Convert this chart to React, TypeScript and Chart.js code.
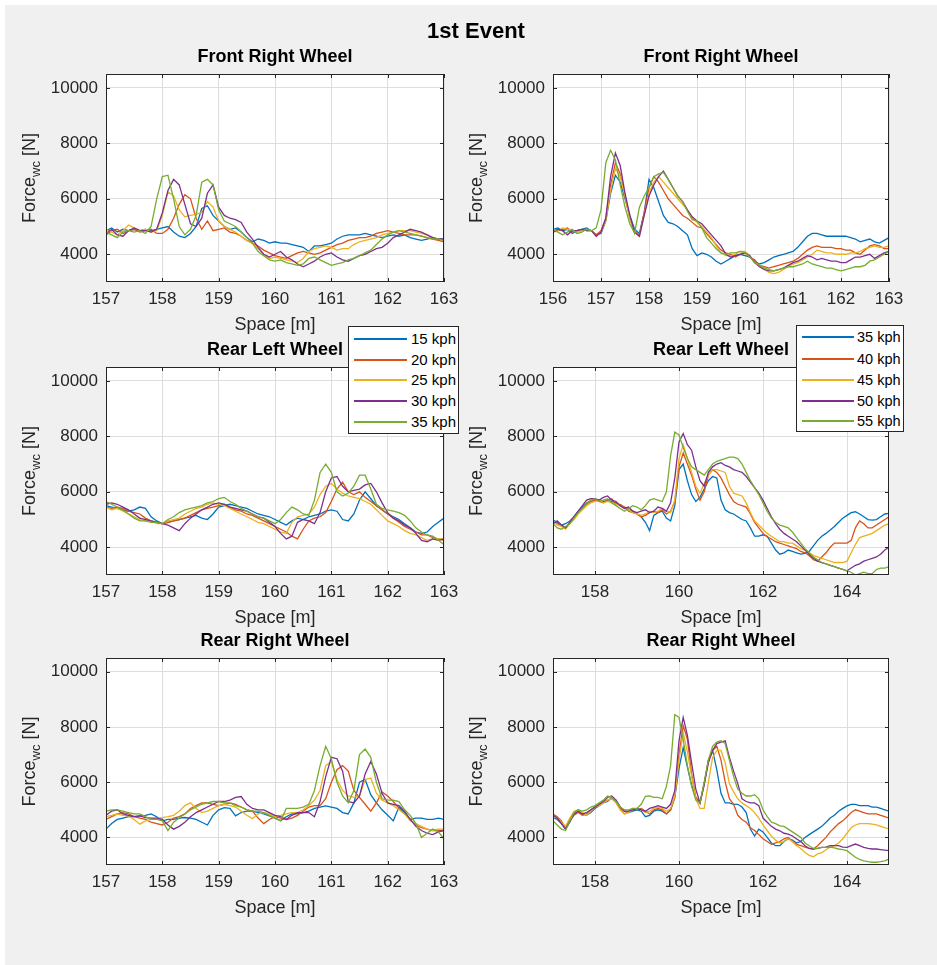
import { useEffect, useRef } from 'react';
import { Chart, registerables } from 'chart.js';

Chart.register(...registerables);

const FONT = '"Liberation Sans", Arial, Helvetica, sans-serif';
const AXIS_COLOR = '#262626';
const GRID_COLOR = '#dedede';
const COLORS = ['#0072BD', '#D95319', '#EDB120', '#7E2F8E', '#77AC30'];

const figureTitle = '1st Event';
const xLabel = 'Space [m]';
const legendLow = ['15 kph', '20 kph', '25 kph', '30 kph', '35 kph'];
const legendHigh = ['35 kph', '40 kph', '45 kph', '50 kph', '55 kph'];

const yTicks = [4000, 6000, 8000, 10000];
const xTicksA = [157, 158, 159, 160, 161, 162, 163];
const xTicksB = [156, 157, 158, 159, 160, 161, 162, 163];
const xTicksC = [158, 160, 162, 164];

const spaceA = [
  157.0, 157.1, 157.2, 157.3, 157.4, 157.5, 157.6, 157.7, 157.8, 157.9,
  158.0, 158.1, 158.2, 158.3, 158.4, 158.5, 158.6, 158.7, 158.8, 158.9,
  159.0, 159.1, 159.2, 159.3, 159.4, 159.5, 159.6, 159.7, 159.8, 159.9,
  160.0, 160.1, 160.2, 160.3, 160.4, 160.5, 160.6, 160.7, 160.8, 160.9,
  161.0, 161.1, 161.2, 161.3, 161.4, 161.5, 161.6, 161.7, 161.8, 161.9,
  162.0, 162.1, 162.2, 162.3, 162.4, 162.5, 162.6, 162.7, 162.8, 162.9,
  163.0];

const spaceB = [
  156.0, 156.1, 156.2, 156.3, 156.4, 156.5, 156.6, 156.7, 156.8, 156.9,
  157.0, 157.1, 157.2, 157.3, 157.4, 157.5, 157.6, 157.7, 157.8, 157.9,
  158.0, 158.1, 158.2, 158.3, 158.4, 158.5, 158.6, 158.7, 158.8, 158.9,
  159.0, 159.1, 159.2, 159.3, 159.4, 159.5, 159.6, 159.7, 159.8, 159.9,
  160.0, 160.1, 160.2, 160.3, 160.4, 160.5, 160.6, 160.7, 160.8, 160.9,
  161.0, 161.1, 161.2, 161.3, 161.4, 161.5, 161.6, 161.7, 161.8, 161.9,
  162.0, 162.1, 162.2, 162.3, 162.4, 162.5, 162.6, 162.7, 162.8, 162.9,
  163.0];

const spaceC = [
  157.0, 157.1, 157.2, 157.3, 157.4, 157.5, 157.6, 157.7, 157.8, 157.9,
  158.0, 158.1, 158.2, 158.3, 158.4, 158.5, 158.6, 158.7, 158.8, 158.9,
  159.0, 159.1, 159.2, 159.3, 159.4, 159.5, 159.6, 159.7, 159.8, 159.9,
  160.0, 160.1, 160.2, 160.3, 160.4, 160.5, 160.6, 160.7, 160.8, 160.9,
  161.0, 161.1, 161.2, 161.3, 161.4, 161.5, 161.6, 161.7, 161.8, 161.9,
  162.0, 162.1, 162.2, 162.3, 162.4, 162.5, 162.6, 162.7, 162.8, 162.9,
  163.0, 163.1, 163.2, 163.3, 163.4, 163.5, 163.6, 163.7, 163.8, 163.9,
  164.0, 164.1, 164.2, 164.3, 164.4, 164.5, 164.6, 164.7, 164.8, 164.9,
  165.0];

// ---- Front Right Wheel (low speeds) ----
const frontLow15 = [
  4850, 4950, 4800, 4900, 4850, 4900, 4850, 4900, 4850, 4900,
  4950, 5000, 4800, 4650, 4600, 4750, 5000, 5650, 5750, 5400,
  5200, 5000, 4900, 4950, 4800, 4600, 4450, 4550, 4500, 4400,
  4450, 4400, 4400, 4350, 4300, 4250, 4100, 4300, 4300, 4350,
  4400, 4550, 4650, 4700, 4700, 4700, 4750, 4700, 4650, 4600,
  4650, 4700, 4650, 4700, 4600, 4550, 4500, 4550, 4600, 4550,
  4550];
const frontLow20 = [
  4700, 4850, 4900, 4750, 4850, 4900, 4800, 4850, 4900, 4750,
  4750, 4900, 5300, 5800, 6150, 6000, 5300, 4900, 5200, 4850,
  4900, 4950, 4800, 4750, 4650, 4500, 4400, 4300, 4150, 4050,
  3950, 3900, 3850, 3950, 4050, 4100, 4050, 4000, 4050, 4150,
  4250, 4350, 4400, 4500, 4550, 4600, 4600, 4650, 4750, 4800,
  4850, 4800, 4750, 4700, 4700, 4700, 4650, 4600, 4550, 4500,
  4450];
const frontLow25 = [
  4900, 4800, 4700, 4850, 5050, 4950, 4850, 4900, 4800, 4850,
  5400, 6250, 6100, 5600, 5350, 5400, 5450, 5500, 5900, 5700,
  5200, 5000, 4900, 4800, 4650, 4500, 4400, 4200, 4000, 3850,
  3900, 3850, 3800, 3750, 3700, 3850, 4100, 4200, 4250, 4300,
  4250, 4150, 4200, 4200, 4350, 4450, 4500, 4550, 4600, 4700,
  4750, 4800, 4850, 4850, 4850, 4800, 4750, 4700, 4600, 4550,
  4500];
const frontLow30 = [
  4750, 4900, 4700, 4650, 4850, 4950, 4850, 4850, 4800, 4900,
  5500, 6300, 6700, 6500, 5800, 5100, 5000, 5300, 6200, 6500,
  5700, 5400, 5300, 5250, 5150, 4800, 4550, 4250, 4000, 3900,
  4000, 4100, 3900, 3800, 3650, 3550, 3650, 3750, 3900, 4000,
  4050, 3900, 3800, 3750, 3850, 3950, 4000, 4100, 4200, 4250,
  4400, 4600, 4700, 4800, 4900, 4850, 4800, 4700, 4600, 4550,
  4550];
const frontLow35 = [
  4800, 4700, 4600, 4800, 4850, 4800, 4850, 4750, 5000, 6000,
  6800, 6850, 6000, 5000, 4700, 4900, 5400, 6600, 6700, 6500,
  5600, 5200, 5100, 5000, 4800, 4600, 4400, 4100, 3950, 3800,
  3750, 3800, 3700, 3650, 3600, 3650, 3850, 3900, 3800, 3700,
  3600, 3650, 3700, 3800, 3850, 3950, 4050, 4150, 4350, 4550,
  4700, 4800, 4850, 4800, 4750, 4700, 4650, 4600, 4550, 4550,
  4500];

// ---- Front Right Wheel (high speeds) ----
const frontHigh35 = [
  4900, 4950, 4850, 4900, 4750, 4850, 4900, 4950, 4850, 4700,
  4750, 5200, 6200, 6850, 6600, 6000, 5400, 4900, 4750, 5500,
  6700, 6400, 5900, 5400, 5150, 5100, 5000, 4850, 4700, 4200,
  3950, 4050, 4000, 3900, 3750, 3650, 3750, 3850, 3950, 4000,
  3950, 3900, 3750, 3650, 3700, 3800, 3900, 3950, 4000, 4050,
  4100, 4250, 4450, 4650, 4750, 4750, 4700, 4650, 4650, 4650,
  4650, 4650, 4600, 4550, 4450, 4500, 4550, 4450, 4400, 4500,
  4600];
const frontHigh40 = [
  4800, 4850, 4900, 4950, 4800, 4850, 4900, 4850, 4850, 4700,
  4850, 5300, 6500, 7300, 6900, 6100, 5300, 4800, 4700, 5500,
  6400, 6800, 6600, 6300, 6000, 5800, 5600, 5400, 5300, 5150,
  5000, 4950, 4750, 4550, 4350, 4150, 4050, 4000, 3900, 4000,
  4050, 3900, 3800, 3600, 3550, 3500, 3550, 3600, 3650, 3700,
  3750, 3850, 4000, 4150, 4250, 4300, 4250, 4250, 4250, 4200,
  4200, 4150, 4150, 4050, 4000, 4150, 4300, 4350, 4300, 4200,
  4200];
const frontHigh45 = [
  4900, 4850, 4950, 4900, 4850, 4800, 4850, 4900, 4850, 4650,
  4800, 5200, 6300, 7100, 6800, 6100, 5300, 4800, 4650, 5400,
  6200, 6600, 6800, 6600, 6400, 6200, 6000, 5800, 5600, 5300,
  5150, 5000, 4800, 4600, 4300, 4050, 3950, 3950, 4000, 4100,
  4100, 3950, 3700, 3600, 3450, 3350, 3300, 3350, 3450, 3550,
  3650, 3700, 3800, 3900, 4000, 4150, 4100, 4050, 4050, 4000,
  4000, 4000, 4050, 4050, 4100, 4200, 4250, 4300, 4250, 4250,
  4300];
const frontHigh50 = [
  4800, 4900, 4850, 4700, 4850, 4850, 4900, 4850, 4850, 4650,
  4800, 5300, 6800, 7650, 7200, 6200, 5400, 4800, 4650, 5400,
  6100, 6500, 6800, 7000, 6700, 6400, 6100, 5900, 5600, 5350,
  5200, 5100, 4900, 4700, 4500, 4300, 4000, 3900, 3950, 4000,
  4050, 3950, 3700, 3550, 3450, 3400, 3400, 3450, 3500, 3600,
  3700, 3750, 3850, 3950, 3900, 3800, 3850, 3800, 3750, 3750,
  3700, 3700, 3800, 3900, 3900, 3950, 4000, 3850, 3950, 4050,
  4100];
const frontHigh55 = [
  4900, 4800, 4700, 4800, 4900, 4750, 4800, 4900, 4850, 4950,
  5600, 7300, 7750, 7400, 6500, 5700, 5100, 4750, 5700, 6100,
  6400, 6800, 6900, 6950, 6700, 6400, 6100, 5900, 5550, 5250,
  5200, 4950, 4600, 4400, 4200, 4050, 4000, 4050, 4050, 4100,
  4050, 3900, 3700, 3600, 3500, 3450, 3400, 3450, 3500, 3550,
  3550, 3600, 3650, 3750, 3650, 3600, 3550, 3500, 3500, 3450,
  3400, 3450, 3500, 3550, 3550, 3600, 3750, 3800, 3900, 4000,
  4100];

// ---- Rear Left Wheel (low speeds) ----
const rearLeftLow15 = [
  5500, 5450, 5400, 5350, 5300, 5350, 5450, 5400, 5100, 4950,
  4850, 4900, 4950, 5000, 5050, 5100, 5150, 5050, 5000, 5200,
  5450, 5500, 5550, 5500, 5450, 5400, 5300, 5200, 5150, 5100,
  5000, 4900, 4800, 4950, 5050, 5000, 5100, 5150, 5200, 5300,
  5350, 5300, 5000, 4950, 5200, 5700, 6000, 5750, 5500, 5350,
  5200, 5100, 5000, 4850, 4700, 4550, 4500, 4550, 4750, 4900,
  5050];
const rearLeftLow20 = [
  5450, 5400, 5450, 5400, 5300, 5250, 5200, 5050, 4950, 4900,
  4850, 4900, 4950, 5000, 5050, 5150, 5250, 5350, 5400, 5450,
  5500, 5550, 5450, 5350, 5300, 5200, 5150, 5050, 4950, 4850,
  4750, 4650, 4550, 4400, 4300, 4650, 4950, 5050, 5100, 5250,
  5650, 6100, 6350, 6000, 5900, 6000, 5800, 5650, 5500, 5350,
  5200, 5050, 4900, 4750, 4650, 4550, 4450, 4450, 4350, 4300,
  4250];
const rearLeftLow25 = [
  5450, 5350, 5400, 5300, 5200, 5100, 5000, 4950, 4950, 4850,
  4850, 4950, 5000, 5050, 5200, 5300, 5400, 5450, 5550, 5600,
  5550, 5500, 5400, 5300, 5200, 5100, 5000, 4900, 4850, 4750,
  4650, 4550, 4500, 4900, 5100, 5150, 5200, 5450, 5900, 6200,
  6300, 6100, 5950, 5850, 5800, 5750, 5650, 5550, 5350, 5150,
  4950, 4850, 4750, 4600, 4500, 4450, 4350, 4250, 4300, 4300,
  4300];
const rearLeftLow30 = [
  5550, 5600, 5550, 5450, 5350, 5200, 5050, 5000, 4950, 4900,
  4850, 4800, 4700, 4600, 4850, 5050, 5200, 5350, 5450, 5550,
  5600, 5550, 5450, 5400, 5350, 5300, 5200, 5100, 5050, 4900,
  4750, 4500, 4300, 4400, 4900, 5000, 4950, 4850, 5250, 6000,
  6500, 6550, 6200, 6000, 6050, 6100, 6250, 6300, 6000, 5600,
  5250, 5050, 4950, 4800, 4700, 4500, 4250, 4200, 4300, 4250,
  4300];
const rearLeftLow35 = [
  5650, 5550, 5450, 5350, 5200, 5050, 4950, 4950, 4900, 4900,
  4850, 5000, 5100, 5250, 5350, 5400, 5450, 5500, 5600, 5650,
  5750, 5800, 5650, 5550, 5400, 5300, 5200, 5100, 5050, 4950,
  4850, 5000, 5250, 5450, 5350, 5200, 5150, 5700, 6700, 7000,
  6700, 6000, 5850, 5950, 6200, 6600, 6600, 6100, 5550, 5400,
  5350, 5300, 5250, 5150, 4950, 4700, 4550, 4450, 4400, 4250,
  4100];

// ---- Rear Left Wheel (high speeds) ----
const rearLeftHigh35 = [
  4980, 4900, 4800, 4850, 4950, 5100, 5300, 5450, 5600, 5650,
  5700, 5700, 5650, 5700, 5650, 5600, 5500, 5450, 5350, 5300,
  5200, 5100, 4900, 4600, 5150, 5250, 5300, 5050, 4950, 5500,
  6800, 7000, 6400, 5900, 5650, 5800, 6100, 6400, 6550, 6500,
  5700, 5350, 5250, 5200, 5100, 5000, 4950, 4700, 4400, 4400,
  4450, 4400, 4150, 3900, 3750, 3800, 3900, 3850, 3800, 3750,
  3780, 3850, 4050, 4250, 4400, 4500, 4620, 4750, 4900, 5050,
  5150, 5250, 5280, 5200, 5100, 5000, 4980, 5000, 5100, 5200,
  5220];
const rearLeftHigh40 = [
  4900, 4850, 4800, 4700, 4900, 5050, 5250, 5400, 5550, 5650,
  5700, 5650, 5600, 5700, 5750, 5550, 5550, 5450, 5300, 5250,
  5200, 5100, 5150, 5250, 5300, 5250, 5350, 5200, 5300, 5650,
  6900, 7400, 7000, 6600, 6100, 5700, 6000, 6600, 6800, 6700,
  6500, 6200, 5900, 5650, 5550, 5500, 5450, 5200, 4900, 4700,
  4500, 4380, 4300, 4200, 4150, 4100, 4050, 4000, 3950, 3850,
  3800, 3700, 3550, 3500, 3650, 3800, 4000, 4150, 4150, 4150,
  4150, 4250, 4700, 4950, 4850, 4700, 4700, 4800, 4900, 5000,
  5100];
const rearLeftHigh45 = [
  4950, 4800, 4750, 4650, 4850, 5000, 5200, 5350, 5500, 5600,
  5650, 5700, 5600, 5650, 5600, 5550, 5500, 5400, 5350, 5250,
  5200, 5150, 5200, 5300, 5250, 5300, 5400, 5300, 5250, 5700,
  7200, 7700, 7200, 6700, 6200, 5950, 6300, 6600, 6800, 6800,
  6750, 6700, 6200, 5950, 5900, 5850, 5600, 5250, 4950, 4800,
  4650, 4500, 4400, 4300, 4200, 4200, 4150, 4150, 4050, 3950,
  3900, 3800, 3700, 3650, 3600, 3550, 3500, 3450, 3450, 3450,
  3500, 3800, 4100, 4350, 4400, 4450, 4500, 4600, 4700, 4800,
  4850];
const rearLeftHigh50 = [
  4850, 4950, 4800, 4700, 4900, 5100, 5300, 5500, 5700, 5750,
  5750, 5700, 5800, 5850, 5700, 5650, 5500, 5400, 5450, 5300,
  5250, 5300, 5350, 5250, 5300, 5450, 5400, 5300, 5600, 6500,
  7800, 8100, 7700, 7500, 6900, 6400, 6200, 6700, 6900, 7000,
  7050, 6950, 6900, 6800, 6750, 6700, 6550, 6350, 6150, 5950,
  5700, 5400, 5100, 4850, 4650, 4500, 4400, 4300, 4200, 4050,
  3900, 3750, 3600, 3500, 3450, 3400, 3350, 3300, 3250, 3200,
  3150, 3250, 3350, 3400, 3500, 3550, 3600, 3650, 3750, 3900,
  4000];
const rearLeftHigh55 = [
  4850, 4700, 4650, 4750, 4850, 5050, 5250, 5400, 5600, 5700,
  5750, 5650, 5700, 5750, 5600, 5500, 5400, 5300, 5400, 5500,
  5450, 5350, 5500, 5700, 5750, 5700, 5650, 6000, 7300, 8150,
  8050, 7600, 7200, 6900, 6800, 6700, 6600, 6800, 7000, 7100,
  7150, 7200, 7250, 7250, 7200, 7000, 6700, 6400, 6150, 5900,
  5600, 5300, 5050, 4900, 4800, 4750, 4700, 4550, 4350, 4150,
  3950, 3800, 3650, 3550, 3450, 3400, 3350, 3300, 3250, 3200,
  3150, 3100, 3000, 3050, 3100, 3050, 3050, 3200, 3250, 3250,
  3300];

// ---- Rear Right Wheel (low speeds) ----
const rearRightLow15 = [
  4300, 4500, 4650, 4700, 4750, 4750, 4780, 4800, 4850, 4750,
  4600, 4650, 4650, 4700, 4720, 4700, 4650, 4550, 4450, 4800,
  5000, 5080, 5050, 4780, 4900, 4950, 4950, 4900, 4850, 4780,
  4700, 4600, 4750, 4850, 4850, 4900, 4950, 5050, 5100, 5140,
  5100, 5050, 4900, 4850, 5250, 6000, 6100, 5550, 5250, 5000,
  4800, 4600, 5100, 4900, 4650, 4700, 4700, 4650, 4650, 4700,
  4650];
const rearRightLow20 = [
  4650, 4750, 4850, 4900, 4850, 4750, 4700, 4650, 4550, 4500,
  4450, 4550, 4700, 4750, 4850, 5050, 5150, 5250, 5250, 5200,
  5150, 5200, 5250, 5200, 5100, 5000, 4950, 4700, 4500, 4650,
  4750, 4700, 4650, 4700, 4800, 4950, 5100, 5150, 5150, 5400,
  6000, 6450, 6600, 6400, 5700, 5450, 5200, 4950, 5250, 5650,
  5500, 5300, 5050, 4850, 4650, 4450, 4350, 4300, 4250, 4250,
  4250];
const rearRightLow25 = [
  4750, 4800, 4850, 4800, 4780, 4650, 4480, 4600, 4650, 4700,
  4720, 4750, 4800, 4950, 5150, 5250, 5050, 4900, 4950, 5050,
  5150, 5200, 5150, 5100, 4950, 4800, 4680, 4850, 4900, 4850,
  4750, 4800, 4850, 4900, 4900, 5000, 5150, 5350, 5700, 6600,
  6750, 6100, 5700, 5500, 5450, 5500, 6100, 6150, 5600, 5350,
  5250, 5150, 5000, 4850, 4600, 4500, 4400, 4300, 4250, 4300,
  4300];
const rearRightLow30 = [
  4800, 4950, 5000, 4850, 4800, 4750, 4780, 4720, 4700, 4700,
  4650, 4450, 4300, 4400, 4550, 4750, 4900, 5000, 5100, 5200,
  5300, 5300, 5350, 5450, 5480, 5200, 5050, 5000, 5000, 4900,
  4800, 4750, 4650, 4800, 4900, 4900, 4900, 4750, 5300, 6200,
  6900, 6850, 6400, 5300, 5250, 5500, 6300, 6750, 6300, 5600,
  5250, 5200, 5150, 4950, 4650, 4400, 4250, 4150, 4100, 4200,
  4250];
const rearRightLow35 = [
  4950, 5000, 5000, 4950, 4900, 4850, 4850, 4750, 4650, 4650,
  4600, 4250, 4550, 4700, 4850, 5000, 5100, 5200, 5250, 5300,
  5300, 5250, 5250, 5150, 5100, 5000, 4950, 4950, 4900, 4800,
  4700, 4600, 5050, 5050, 5050, 5100, 5200, 5700, 6600, 7300,
  6850, 6000, 5500, 5250, 5700, 7000, 7200, 6900, 6000, 5400,
  5350, 5350, 5300, 5000, 4800, 4500, 4000, 4150, 4300, 4200,
  3950];

// ---- Rear Right Wheel (high speeds) ----
const rearRightHigh35 = [
  4720, 4650, 4500, 4300, 4550, 4850, 4950, 4850, 4800, 4900,
  5050, 5150, 5250, 5300, 5450, 5350, 5100, 4950, 4900, 4950,
  5000, 4950, 4750, 4800, 4950, 5000, 4950, 4850, 5000, 5450,
  6500, 7250, 6550, 5900, 5450, 5250, 5900, 6800, 7150, 6450,
  5600, 5250, 5250, 5200, 5200, 5100, 4900, 4300, 4050, 4300,
  4200, 4000, 3800, 3700, 3700, 3850, 3950, 3900, 3800, 3850,
  4000, 4100, 4200, 4300, 4400, 4550, 4700, 4800, 4950, 5050,
  5140, 5200, 5200, 5150, 5150, 5150, 5100, 5100, 5050, 5000,
  4950];
const rearRightHigh40 = [
  4850, 4750, 4600, 4350, 4600, 4800, 4900, 4800, 4850, 5000,
  5100, 5200, 5300, 5350, 5400, 5300, 5050, 4850, 4950, 5050,
  5000, 5050, 4950, 4850, 5000, 5050, 5000, 4850, 5000, 5450,
  7000, 8050, 7550, 6300, 5450, 5250, 5950, 6800, 7150, 7300,
  6800, 6000, 5400, 5200, 4800, 4650, 4550, 4350, 4250, 4100,
  3950, 3850, 3750, 3800, 3850, 3950, 4000, 3850, 3750, 3700,
  3650, 3600, 3580, 3700, 3850, 4000, 4200, 4350, 4500, 4600,
  4750, 4900, 5000, 4950, 4900, 4850, 4850, 4850, 4800, 4750,
  4700];
const rearRightHigh45 = [
  4800, 4700, 4550, 4400, 4700, 4950, 5000, 4900, 4800, 4950,
  5100, 5150, 5250, 5350, 5400, 5250, 5000, 4850, 4900, 5000,
  5050, 5000, 4900, 4950, 5050, 5100, 5050, 4950, 5050, 5500,
  6800, 7800, 7100, 6200, 5400, 5050, 5050, 6000, 6900, 7150,
  7150, 6700, 5950, 5650, 5400, 5250, 5150, 5050, 4900, 4700,
  4450, 4250, 4050, 3900, 3800, 3850, 3950, 3850, 3700, 3600,
  3450, 3350, 3300, 3400, 3450, 3550, 3650, 3700, 3800, 3950,
  4150, 4350, 4450, 4500, 4500, 4500, 4480, 4450, 4400, 4350,
  4300];
const rearRightHigh50 = [
  4800, 4700, 4500, 4300, 4600, 4850, 4950, 4850, 4900, 5000,
  5100, 5200, 5300, 5450, 5500, 5350, 5100, 4950, 4950, 5000,
  5050, 5000, 4950, 5050, 5100, 5150, 5100, 5050, 5200, 5700,
  7500, 8350, 7700, 6700, 5750, 5250, 5950, 6700, 7150, 7400,
  7450, 7500, 6900, 6400, 5950, 5400, 5300, 5250, 5250, 5150,
  4700, 4550, 4400, 4300, 4240, 4150, 4120, 4050, 3940, 3850,
  3700, 3600, 3580, 3600, 3640, 3650, 3700, 3700, 3700, 3650,
  3640, 3700, 3760, 3700, 3640, 3600, 3580, 3580, 3560, 3540,
  3520];
const rearRightHigh55 = [
  4600, 4450, 4300, 4250, 4600, 4900, 5000, 4950, 5000, 5100,
  5150, 5250, 5350, 5500, 5450, 5300, 5100, 5000, 5000, 5050,
  5050, 5200, 5490, 5500, 5450, 5450, 5400, 5850, 6600, 8450,
  8350, 7550, 6600, 5850, 5350, 5250, 6000, 6800, 7300, 7450,
  7500, 7400, 6800, 6200, 5750, 5600, 5500, 5500, 5550, 5400,
  5000, 4750, 4550, 4500, 4420, 4400, 4300, 4200, 4100, 4000,
  3800, 3700, 3600, 3600, 3640, 3640, 3650, 3620, 3580, 3560,
  3520, 3400, 3280, 3200, 3150, 3120, 3100, 3100, 3120, 3150,
  3220];

// ---- layout (page pixels) ----
const PAD_L = 100;
const PAD_R = 30;
const PAD_T = 40;
const PAD_B = 60;
const TICK_LEN = 4;

type PanelCfg = {
  title: string;
  box: [number, number, number, number];
  x: number[];
  xMin: number;
  xMax: number;
  xTicks: number[];
  labels: string[];
  series: number[][];
};

const PANELS: PanelCfg[] = [
  { title: 'Front Right Wheel', box: [106, 74, 444, 282], x: spaceA, xMin: 157, xMax: 163, xTicks: xTicksA, labels: legendLow,
    series: [frontLow15, frontLow20, frontLow25, frontLow30, frontLow35] },
  { title: 'Front Right Wheel', box: [553, 74, 889, 282], x: spaceB, xMin: 156, xMax: 163, xTicks: xTicksB, labels: legendHigh,
    series: [frontHigh35, frontHigh40, frontHigh45, frontHigh50, frontHigh55] },
  { title: 'Rear Left Wheel', box: [106, 367, 444, 575], x: spaceA, xMin: 157, xMax: 163, xTicks: xTicksA, labels: legendLow,
    series: [rearLeftLow15, rearLeftLow20, rearLeftLow25, rearLeftLow30, rearLeftLow35] },
  { title: 'Rear Left Wheel', box: [553, 367, 889, 575], x: spaceC, xMin: 157, xMax: 165, xTicks: xTicksC, labels: legendHigh,
    series: [rearLeftHigh35, rearLeftHigh40, rearLeftHigh45, rearLeftHigh50, rearLeftHigh55] },
  { title: 'Rear Right Wheel', box: [106, 658, 444, 865], x: spaceA, xMin: 157, xMax: 163, xTicks: xTicksA, labels: legendLow,
    series: [rearRightLow15, rearRightLow20, rearRightLow25, rearRightLow30, rearRightLow35] },
  { title: 'Rear Right Wheel', box: [553, 658, 889, 865], x: spaceC, xMin: 157, xMax: 165, xTicks: xTicksC, labels: legendHigh,
    series: [rearRightHigh35, rearRightHigh40, rearRightHigh45, rearRightHigh50, rearRightHigh55] },
];

const LEGENDS = [
  { left: 348, top: 326, width: 111, height: 108, labels: legendLow, rows: [13, 34, 54, 75, 96], line0: 6, line1: 59, text: 63, size: 15 },
  { left: 796, top: 325, width: 108, height: 107, labels: legendHigh, rows: [12, 34, 55, 76, 96], line0: 6, line1: 58, text: 61, size: 14.5 },
];

function framePlugin(title: string) {
  return {
    id: 'matlabFrame',
    beforeDraw(chart: any) {
      const { ctx, chartArea: a } = chart;
      ctx.save();
      ctx.fillStyle = '#ffffff';
      ctx.fillRect(a.left, a.top, a.right - a.left, a.bottom - a.top);
      ctx.restore();
    },
    afterDraw(chart: any) {
      const { ctx, chartArea: a, scales } = chart;
      ctx.save();
      ctx.strokeStyle = AXIS_COLOR;
      ctx.lineWidth = 1;
      ctx.beginPath();
      scales.x.ticks.forEach((t: any) => {
        const px = Math.round(scales.x.getPixelForValue(t.value)) + 0.5;
        ctx.moveTo(px, a.bottom);
        ctx.lineTo(px, a.bottom - TICK_LEN);
        ctx.moveTo(px, a.top);
        ctx.lineTo(px, a.top + TICK_LEN);
      });
      scales.y.ticks.forEach((t: any) => {
        const py = Math.round(scales.y.getPixelForValue(t.value)) + 0.5;
        ctx.moveTo(a.left, py);
        ctx.lineTo(a.left + TICK_LEN, py);
        ctx.moveTo(a.right, py);
        ctx.lineTo(a.right - TICK_LEN, py);
      });
      ctx.stroke();
      ctx.strokeRect(a.left + 0.5, a.top + 0.5, a.right - a.left - 1, a.bottom - a.top - 1);

      const cx = (a.left + a.right) / 2;
      ctx.textAlign = 'center';
      ctx.textBaseline = 'middle';
      ctx.fillStyle = '#000000';
      ctx.font = `bold 18px ${FONT}`;
      ctx.fillText(title, cx, a.top - 17);

      ctx.fillStyle = AXIS_COLOR;
      ctx.font = `18px ${FONT}`;
      ctx.fillText(xLabel, cx, a.bottom + 43);

      // y label with subscript
      const big = `18px ${FONT}`;
      const small = `13px ${FONT}`;
      ctx.translate(a.left - 71, (a.top + a.bottom) / 2);
      ctx.rotate(-Math.PI / 2);
      ctx.font = big;
      const w1 = ctx.measureText('Force').width;
      const w3 = ctx.measureText(' [N]').width;
      ctx.font = small;
      const w2 = ctx.measureText('wc').width;
      let x = -(w1 + w2 + w3) / 2;
      ctx.textAlign = 'left';
      ctx.textBaseline = 'alphabetic';
      ctx.font = big;
      ctx.fillText('Force', x, 0);
      x += w1;
      ctx.font = small;
      ctx.fillText('wc', x, 5);
      x += w2;
      ctx.font = big;
      ctx.fillText(' [N]', x, 0);
      ctx.restore();
    },
  };
}

function Panel({ cfg }: { cfg: PanelCfg }) {
  const ref = useRef<HTMLCanvasElement>(null);
  const [l, t, r, b] = cfg.box;
  const W = r - l + PAD_L + PAD_R;
  const H = b - t + PAD_T + PAD_B;

  useEffect(() => {
    if (!ref.current) return;
    const n = cfg.series.length;
    const chart = new Chart(ref.current, {
      type: 'line',
      data: {
        datasets: cfg.series.map((ys, i) => ({
          label: cfg.labels[i],
          data: cfg.x.map((xv, j) => ({ x: xv, y: ys[j] })),
          borderColor: COLORS[i],
          backgroundColor: COLORS[i],
          borderWidth: 1.3,
          pointRadius: 0,
          fill: false,
          tension: 0,
          order: n - 1 - i,
        })),
      },
      options: {
        responsive: false,
        animation: false,
        events: [],
        layout: { padding: { left: 0, top: PAD_T, right: PAD_R, bottom: 0 } },
        plugins: { legend: { display: false }, tooltip: { enabled: false }, title: { display: false } },
        scales: {
          x: {
            type: 'linear',
            min: cfg.xMin,
            max: cfg.xMax,
            afterBuildTicks: (s: any) => { s.ticks = cfg.xTicks.map((v) => ({ value: v })); },
            afterFit: (s: any) => { s.height = PAD_B; s.paddingLeft = 0; s.paddingRight = 0; },
            grid: { color: GRID_COLOR, drawTicks: false, lineWidth: 1 },
            border: { display: false },
            ticks: {
              autoSkip: false, maxRotation: 0, minRotation: 0, padding: 7,
              color: AXIS_COLOR, font: { family: FONT, size: 17 },
              callback: (v: any) => String(v),
            },
          },
          y: {
            type: 'linear',
            min: 3000,
            max: 10500,
            afterBuildTicks: (s: any) => { s.ticks = yTicks.map((v) => ({ value: v })); },
            afterFit: (s: any) => { s.width = PAD_L; s.paddingTop = 0; s.paddingBottom = 0; },
            grid: { color: GRID_COLOR, drawTicks: false, lineWidth: 1 },
            border: { display: false },
            ticks: {
              autoSkip: false, padding: 8,
              color: AXIS_COLOR, font: { family: FONT, size: 17 },
              callback: (v: any) => String(v),
            },
          },
        },
      },
      plugins: [framePlugin(cfg.title)],
    } as any);
    return () => chart.destroy();
  }, []);

  return (
    <canvas
      ref={ref}
      width={W}
      height={H}
      style={{ position: 'absolute', left: l - PAD_L, top: t - PAD_T, width: W, height: H }}
    />
  );
}

function Legend({ cfg }: { cfg: typeof LEGENDS[number] }) {
  return (
    <div
      style={{
        position: 'absolute', left: cfg.left, top: cfg.top, width: cfg.width, height: cfg.height,
        boxSizing: 'border-box', border: `1px solid ${AXIS_COLOR}`, background: '#ffffff', zIndex: 5,
      }}
    >
      {cfg.labels.map((lab, i) => (
        <div key={lab}>
          <div
            style={{
              position: 'absolute', left: cfg.line0 - 1, top: cfg.rows[i] - 2, width: cfg.line1 - cfg.line0,
              height: 1.5, background: COLORS[i],
            }}
          />
          <div
            style={{
              position: 'absolute', left: cfg.text - 1, top: cfg.rows[i] - 11, height: 20, lineHeight: '20px',
              fontFamily: FONT, fontSize: cfg.size, color: '#000000', whiteSpace: 'nowrap',
            }}
          >
            {lab}
          </div>
        </div>
      ))}
    </div>
  );
}

export default function App() {
  return (
    <div style={{ position: 'absolute', left: 0, top: 0, width: 937, height: 965, background: '#ffffff', overflow: 'hidden' }}>
      <div style={{ position: 'absolute', left: 5, top: 5, width: 932, height: 960, background: '#f0f0f0' }} />
      <div
        style={{
          position: 'absolute', left: 376, top: 18, width: 200, height: 26, lineHeight: '26px', textAlign: 'center',
          fontFamily: FONT, fontWeight: 'bold', fontSize: 22, color: '#000000', zIndex: 4,
        }}
      >
        {figureTitle}
      </div>
      {PANELS.map((p, i) => (
        <Panel key={i} cfg={p} />
      ))}
      {LEGENDS.map((lg, i) => (
        <Legend key={i} cfg={lg} />
      ))}
    </div>
  );
}
